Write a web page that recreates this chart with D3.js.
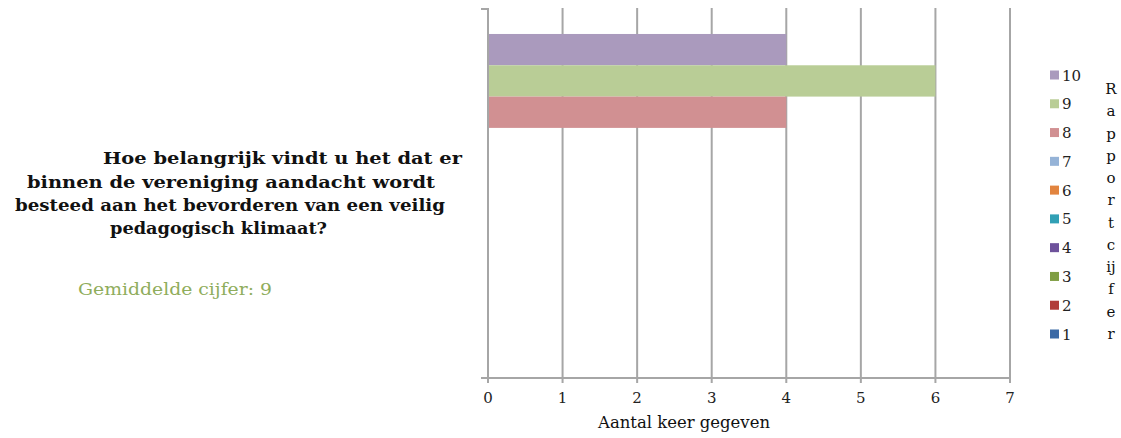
<!DOCTYPE html>
<html><head><meta charset="utf-8">
<script src="https://cdn.jsdelivr.net/npm/d3@7"></script>
<style>html,body{margin:0;padding:0;background:#fff;}svg{display:block;}
.dserif{font-family:'DejaVu Serif',serif;}
</style>
</head><body>
<svg id="c" width="1121" height="438"></svg>
<script>
const categories = ["Hoe belangrijk vindt u het dat er binnen de vereniging aandacht wordt besteed aan het bevorderen van een veilig pedagogisch klimaat?"];
const series = ["10","9","8","7","6","5","4","3","2","1"];
const values = [4, 6, 4, 0, 0, 0, 0, 0, 0, 0];
const colors = ["#aa9abd","#b9cd96","#d19092","#95b3d7","#e2843f","#31a0b5","#6e529b","#7f9e43","#b13c39","#3b6aa6"];
const xTicks = [0,1,2,3,4,5,6,7];
const titleLines = ["Hoe belangrijk vindt u het dat er","binnen de vereniging aandacht wordt","besteed aan het bevorderen van een veilig","pedagogisch klimaat?"];
const averageLabel = "Gemiddelde cijfer: 9";
const xTitle = "Aantal keer gegeven";
const legendTitle = ["R","a","p","p","o","r","t","c","ij","f","e","r"];

const svg = d3.select("#c");
const plot = {left: 488, right: 1010, top: 8, bottom: 378};
const x = d3.scaleLinear().domain([0,7]).range([plot.left, plot.right]);
const yCat = d3.scaleBand().domain(categories).range([plot.top, plot.bottom-5]).paddingOuter(0.083);
const ySer = d3.scaleBand().domain(series).range([0, yCat.bandwidth()]);
const grid = "#a6a6a6";

// gridlines
svg.append("g").selectAll("line").data(xTicks.filter(d=>d>0)).join("line")
  .attr("x1", d=>x(d)).attr("x2", d=>x(d)).attr("y1", plot.top).attr("y2", plot.bottom+5)
  .attr("stroke", grid).attr("stroke-width", 2);

// bars
const cat = categories[0];
svg.append("g").selectAll("rect").data(series.map((s,i)=>({s, v: values[i], c: colors[i]}))).join("rect")
  .attr("x", x(0)).attr("y", d=>yCat(cat)+ySer(d.s))
  .attr("width", d=>x(d.v)-x(0)).attr("height", ySer.bandwidth())
  .attr("fill", d=>d.c);

// axes lines
svg.append("line").attr("x1", plot.left).attr("x2", plot.left).attr("y1", plot.top).attr("y2", plot.bottom+5)
  .attr("stroke", grid).attr("stroke-width", 2);
svg.append("line").attr("x1", plot.left-7).attr("x2", plot.left).attr("y1", plot.top+1).attr("y2", plot.top+1)
  .attr("stroke", grid).attr("stroke-width", 2);
svg.append("line").attr("x1", plot.left-7).attr("x2", plot.right).attr("y1", plot.bottom).attr("y2", plot.bottom)
  .attr("stroke", grid).attr("stroke-width", 2);

// x tick labels
svg.append("g").selectAll("text").data(xTicks).join("text")
  .attr("class","dserif")
  .attr("x", d=>x(d)).attr("y", 403).attr("text-anchor","middle")
  .attr("font-size",15).attr("fill","#222")
  .text(d=>d);
svg.append("text").attr("class","dserif").attr("x", 598).attr("y", 428)
  .attr("textLength",172).attr("lengthAdjust","spacingAndGlyphs")
  .attr("font-size",16).attr("fill","#111").text(xTitle);

// title lines
const titlePos = [[103,462,164],[27,435,188],[15,445,211],[110,327,234]];
svg.append("g").selectAll("text").data(titleLines).join("text")
  .attr("class","dserif")
  .attr("x", (d,i)=>titlePos[i][0]).attr("y", (d,i)=>titlePos[i][2])
  .attr("textLength", (d,i)=>titlePos[i][1]-titlePos[i][0]).attr("lengthAdjust","spacingAndGlyphs")
  .attr("font-weight","bold").attr("font-size",17).attr("fill","#111")
  .text(d=>d);

svg.append("text").attr("class","dserif").attr("x",78).attr("y",295).attr("textLength",194).attr("lengthAdjust","spacingAndGlyphs")
  .attr("font-size",17).attr("fill","#8fad5c").text(averageLabel);

// legend
const lg = svg.append("g");
const ly = d3.scalePoint().domain(series).range([75, 334]);
lg.selectAll("rect").data(series).join("rect")
  .attr("x",1050).attr("y", d=>ly(d)-4.5).attr("width",9).attr("height",9)
  .attr("fill",(d,i)=>colors[i]);
lg.selectAll("text").data(series).join("text")
  .attr("class","dserif")
  .attr("x",1062).attr("y", d=>ly(d)+5.5)
  .attr("font-size",15).attr("fill","#222").text(d=>d);
const lt = d3.scalePoint().domain(d3.range(legendTitle.length)).range([94, 339]);
svg.append("g").selectAll("text").data(legendTitle).join("text")
  .attr("class","dserif")
  .attr("x",1111).attr("y",(d,i)=>lt(i)).attr("text-anchor","middle")
  .attr("font-size",15).attr("fill","#111").text(d=>d);
</script>
</body></html>
